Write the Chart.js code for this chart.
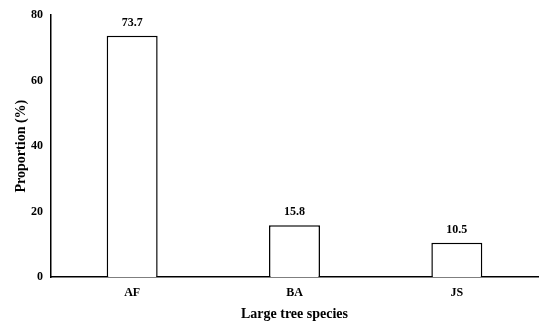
<!DOCTYPE html>
<html>
<head>
<meta charset="utf-8">
<script src="https://cdn.jsdelivr.net/npm/chart.js@4"></script>
<style>
  html, body { margin: 0; padding: 0; background: #fff; }
  #wrap { width: 550px; height: 327px; position: relative; }
</style>
</head>
<body>
<div id="wrap"><canvas id="chart"></canvas></div>
<script>
// data
const species = ['AF', 'BA', 'JS'];
const proportion = [73.7, 15.8, 10.5];
const yTicks = [0, 20, 40, 60, 80];

const FONT = '"Liberation Serif", "Times New Roman", serif';

// value labels above each bar
const valueLabels = {
    id: 'valueLabels',
    afterDatasetsDraw(chart) {
        const ctx = chart.ctx;
        const meta = chart.getDatasetMeta(0);
        ctx.save();
        ctx.font = 'bold 12px ' + FONT;
        ctx.fillStyle = '#000';
        ctx.textAlign = 'center';
        ctx.textBaseline = 'bottom';
        meta.data.forEach((bar, i) => {
            ctx.fillText(proportion[i].toFixed(1), bar.x, bar.y - 7);
        });
        ctx.restore();
    }
};

new Chart(document.getElementById('chart').getContext('2d'), {
    type: 'bar',
    data: {
        labels: species,
        datasets: [{
            data: proportion,
            backgroundColor: '#fff',
            borderColor: '#000',
            borderWidth: 1.5,
            categoryPercentage: 1,
            barPercentage: 0.314
        }]
    },
    options: {
        responsive: true,
        maintainAspectRatio: false,
        animation: false,
        layout: { padding: { top: 13, right: 12, left: 0, bottom: 0 } },
        plugins: {
            legend: { display: false },
            tooltip: { enabled: false }
        },
        scales: {
            x: {
                grid: { display: false, drawTicks: false },
                border: { color: '#000', width: 1.5 },
                ticks: {
                    color: '#000',
                    padding: 9,
                    font: { family: FONT, size: 12, weight: 'bold' }
                },
                title: {
                    display: true,
                    text: 'Large tree species',
                    color: '#000',
                    padding: { top: 4 },
                    font: { family: FONT, size: 14, weight: 'bold' }
                },
                afterFit(scale) { scale.height = 50; }
            },
            y: {
                min: 0,
                max: 80,
                grid: { display: false, drawTicks: false },
                border: { color: '#000', width: 1.5 },
                afterBuildTicks(scale) {
                    scale.ticks = yTicks.map(v => ({ value: v }));
                },
                ticks: {
                    color: '#000',
                    padding: 8,
                    font: { family: FONT, size: 12, weight: 'bold' }
                },
                title: {
                    display: true,
                    text: 'Proportion (%)',
                    color: '#000',
                    padding: { bottom: 0, top: 13 },
                    font: { family: FONT, size: 14, weight: 'bold' }
                },
                afterFit(scale) { scale.width = 51; }
            }
        }
    },
    plugins: [valueLabels]
});
</script>
</body>
</html>
